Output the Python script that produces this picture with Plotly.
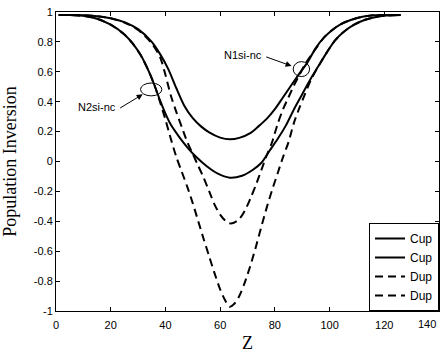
import plotly.graph_objects as go

# ---- data ----
cup1_z = [1, 5, 10, 15, 20, 25, 30, 35, 38, 41, 44, 47, 50, 53, 56, 60, 63.5, 67, 71, 74, 77, 80, 83, 86, 89, 92, 95, 98, 101, 104, 108, 112, 116, 120, 126]
cup1_v = [0.98, 0.98, 0.978, 0.972, 0.958, 0.932, 0.885, 0.80, 0.72, 0.62, 0.49, 0.37, 0.29, 0.235, 0.195, 0.16, 0.148, 0.158, 0.19, 0.235, 0.285, 0.35, 0.43, 0.51, 0.59, 0.665, 0.76, 0.83, 0.88, 0.918, 0.948, 0.968, 0.978, 0.98, 0.98]

cup2_z = [1, 5, 10, 15, 20, 25, 28, 31, 34, 36, 38, 40, 42, 45, 48, 51, 55, 59, 63.5, 68, 72, 75, 78, 81, 84, 87, 90, 93, 96, 99, 102, 105, 109, 113, 117, 121, 126]
cup2_v = [0.98, 0.98, 0.975, 0.955, 0.915, 0.85, 0.79, 0.71, 0.60, 0.51, 0.41, 0.32, 0.245, 0.165, 0.095, 0.035, -0.03, -0.08, -0.108, -0.095, -0.055, -0.01, 0.07, 0.15, 0.24, 0.35, 0.45, 0.55, 0.64, 0.73, 0.81, 0.865, 0.915, 0.948, 0.967, 0.976, 0.98]

dup1_z = [1, 5, 10, 15, 20, 25, 30, 35, 38, 40, 42, 44, 46, 48, 50, 52, 54, 56, 58, 60, 62, 63.5, 65, 67, 69, 71, 73, 75, 77, 79, 81, 83, 85, 87, 89, 91, 94, 98, 101, 104, 108, 112, 116, 120, 126]
dup1_v = [0.98, 0.98, 0.978, 0.972, 0.958, 0.93, 0.88, 0.79, 0.70, 0.58, 0.44, 0.33, 0.23, 0.13, 0.05, -0.03, -0.11, -0.20, -0.29, -0.355, -0.398, -0.414, -0.41, -0.385, -0.33, -0.25, -0.16, -0.06, 0.04, 0.13, 0.25, 0.35, 0.43, 0.51, 0.58, 0.65, 0.73, 0.83, 0.88, 0.918, 0.948, 0.968, 0.978, 0.98, 0.98]

dup2_z = [1, 5, 10, 15, 20, 25, 28, 31, 34, 36, 38, 40, 42, 44, 46, 48, 50, 52, 54, 56, 58, 60, 62, 63.5, 65, 67, 69, 71, 73, 75, 77, 79, 81, 83, 85, 87, 89, 91, 93.3, 96, 99, 102, 105, 109, 113, 117, 121, 126]
dup2_v = [0.98, 0.98, 0.975, 0.955, 0.915, 0.85, 0.79, 0.71, 0.60, 0.51, 0.40, 0.28, 0.15, 0.03, -0.07, -0.17, -0.28, -0.40, -0.52, -0.635, -0.75, -0.855, -0.935, -0.972, -0.955, -0.90, -0.81, -0.70, -0.575, -0.44, -0.31, -0.19, -0.08, 0.03, 0.13, 0.26, 0.36, 0.45, 0.55, 0.64, 0.73, 0.81, 0.865, 0.915, 0.948, 0.967, 0.976, 0.98]

series_names = ["Cup", "Cup", "Dup", "Dup"]

x_ticks = [0, 20, 40, 60, 80, 100, 120, 140]
x_ticktext = ["0", "20", "40", "60", "80", "100", "120", ""]
y_ticks = [-1, -0.8, -0.6, -0.4, -0.2, 0, 0.2, 0.4, 0.6, 0.8, 1]
y_ticktext = ["-1", "-0.8", "-0.6", "-0.4", "-0.2", "0", "0.2", "0.4", "0.6", "0.8", "1"]

# annotation anchors (data coordinates)
n1_label = ("N1si-nc", 68.2, 0.711)
n1_arrow = (86.1, 0.639, 76.3, 0.703)
n1_ellipse = (89.7, 0.618, 3.0, 0.05)
n2_label = ("N2si-nc", 15.1, 0.364)
n2_arrow = (31.7, 0.449, 22.9, 0.352)
n2_ellipse = (34.8, 0.482, 3.9, 0.043)

SANS = "Liberation Sans, Arial, sans-serif"
SERIF = "Liberation Serif, Times New Roman, serif"

fig = go.Figure()
for z, v, name, dash in [
    (cup1_z, cup1_v, series_names[0], "solid"),
    (cup2_z, cup2_v, series_names[1], "solid"),
    (dup1_z, dup1_v, series_names[2], "8px,5px"),
    (dup2_z, dup2_v, series_names[3], "8px,5px"),
]:
    fig.add_trace(go.Scatter(
        x=z, y=v, name=name, mode="lines",
        line=dict(color="black", width=2, dash=dash, shape="spline", smoothing=0.8),
    ))

axis_common = dict(
    showline=True, linecolor="black", linewidth=1, mirror="ticks",
    ticks="inside", ticklen=4, tickcolor="black", showgrid=False, zeroline=False,
    tickfont=dict(family=SANS, size=11, color="black"),
)

fig.update_layout(
    width=446, height=356,
    margin=dict(l=50, r=6, t=11, b=40),
    paper_bgcolor="white", plot_bgcolor="white",
    xaxis=dict(range=[0, 140], tickvals=x_ticks, ticktext=x_ticktext, ticklabelstandoff=4,
               title=dict(text="Z", font=dict(family=SERIF, size=18, color="black"), standoff=6),
               **axis_common),
    yaxis=dict(range=[-1, 1], tickvals=y_ticks, ticktext=y_ticktext,
               title=dict(text="Population Inversion", font=dict(family=SERIF, size=18, color="black")),
               **axis_common),
    legend=dict(x=1, y=0, xanchor="right", yanchor="bottom",
                bgcolor="white", bordercolor="black", borderwidth=1,
                font=dict(family=SANS, size=12, color="black"),
                tracegroupgap=0),
    showlegend=True,
)

# last x tick label drawn shifted left as in the reference
fig.add_annotation(x=140, y=0, xref="x", yref="paper", text="140", showarrow=False,
                   xanchor="right", yanchor="top", yshift=-5, xshift=-1,
                   font=dict(family=SANS, size=11, color="black"))

for (label, lx, ly), (hx, hy, tx, ty), (cx, cy, rx, ry) in [
    (n1_label, n1_arrow, n1_ellipse),
    (n2_label, n2_arrow, n2_ellipse),
]:
    fig.add_annotation(x=lx, y=ly, xref="x", yref="y", text=label, showarrow=False,
                       font=dict(family=SANS, size=11, color="black"))
    fig.add_annotation(x=hx, y=hy, ax=tx, ay=ty, xref="x", yref="y", axref="x", ayref="y",
                       text="", showarrow=True, arrowhead=2, arrowsize=1.2, arrowwidth=1,
                       arrowcolor="black")
    fig.add_shape(type="circle", xref="x", yref="y",
                  x0=cx - rx, x1=cx + rx, y0=cy - ry, y1=cy + ry,
                  line=dict(color="black", width=1))

fig.write_html("out.html")
